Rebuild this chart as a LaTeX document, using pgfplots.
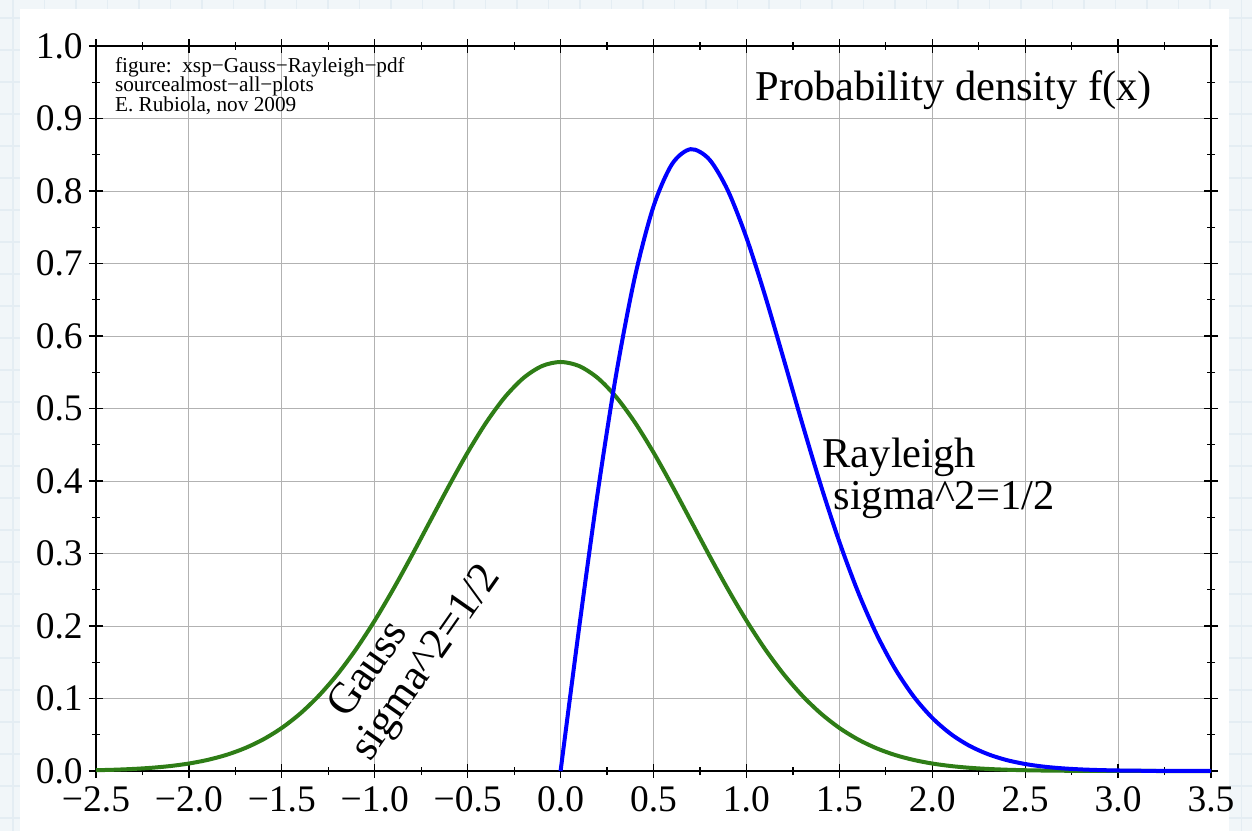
\documentclass[border=0pt]{standalone}
\usepackage{fontspec}
\setmainfont{Liberation Serif}
\usepackage{pgfplots}
\pgfplotsset{compat=1.18}
\definecolor{gaussgreen}{RGB}{46,125,22}
\definecolor{bgout}{RGB}{241,246,249}
\definecolor{bgline}{RGB}{228,237,243}
\pgfplotstableread{
x y
-2.5 0.001089
-2.4 0.001778
-2.3 0.002845
-2.2 0.004461
-2.1 0.006858
-2.0 0.010334
-1.9 0.015263
-1.8 0.022096
-1.7 0.031356
-1.6 0.043614
-1.5 0.059465
-1.4 0.079470
-1.3 0.104104
-1.2 0.133673
-1.1 0.168240
-1.0 0.207554
-0.9 0.250985
-0.8 0.297493
-0.7 0.345638
-0.6 0.393622
-0.5 0.439391
-0.4 0.480771
-0.3 0.515630
-0.2 0.542067
-0.1 0.558575
0.0 0.564190
0.1 0.558575
0.2 0.542067
0.3 0.515630
0.4 0.480771
0.5 0.439391
0.6 0.393622
0.7 0.345638
0.8 0.297493
0.9 0.250985
1.0 0.207554
1.1 0.168240
1.2 0.133673
1.3 0.104104
1.4 0.079470
1.5 0.059465
1.6 0.043614
1.7 0.031356
1.8 0.022096
1.9 0.015263
2.0 0.010334
2.1 0.006858
2.2 0.004461
2.3 0.002845
2.4 0.001778
2.5 0.001089
2.6 0.000654
2.7 0.000385
2.8 0.000222
2.9 0.000125
3.0 0.000070
3.1 0.000038
3.2 0.000020
3.3 0.000010
3.4 0.000005
3.5 0.000003
}\gausstable
\pgfplotstableread{
x y
0.0 0.000000
0.1 0.198010
0.2 0.384316
0.3 0.548359
0.4 0.681715
0.5 0.778801
0.6 0.837211
0.7 0.857676
0.8 0.843667
0.9 0.800744
1.0 0.735759
1.1 0.656033
1.2 0.568627
1.3 0.479752
1.4 0.394402
1.5 0.316197
1.6 0.247376
1.7 0.188958
1.8 0.140990
1.9 0.102798
2.0 0.073263
2.1 0.051051
2.2 0.034791
2.3 0.023193
2.4 0.015125
2.5 0.009650
2.6 0.006027
2.7 0.003688
2.8 0.002206
2.9 0.001288
3.0 0.000740
3.1 0.000418
3.2 0.000229
3.3 0.000122
3.4 0.000065
3.5 0.000034
}\rayleightable
\begin{document}
\begin{tikzpicture}
\path[use as bounding box] (0pt,0pt) rectangle (500.8pt,-332.4pt);
\begin{scope}[x=0.4pt,y=-0.4pt]
\fill[bgout] (0,0) rectangle (1252,831);
\foreach \i in {0,...,39} \draw[bgline, line width=0.7pt] ({13+31.5*\i},0) -- ({13+31.5*\i},831);
\foreach \j in {0,...,26} \draw[bgline, line width=0.7pt] (0,{18+32*\j}) -- (1252,{18+32*\j});
\fill[white] (20,9) rectangle (1229,831);
\end{scope}
\begin{axis}[
  at={(38.4pt,-308.4pt)}, anchor=south west,
  scale only axis, width=446pt, height=290pt,
  xmin=-2.5, xmax=3.5, ymin=0, ymax=1,
  xtick={-2.5,-2,-1.5,-1,-0.5,0,0.5,1,1.5,2,2.5,3,3.5},
  xticklabels={−2.5,−2.0,−1.5,−1.0,−0.5,0.0,0.5,1.0,1.5,2.0,2.5,3.0,3.5},
  ytick={0,0.1,0.2,0.3,0.4,0.5,0.6,0.7,0.8,0.9,1.0},
  yticklabels={0.0,0.1,0.2,0.3,0.4,0.5,0.6,0.7,0.8,0.9,1.0},
  minor x tick num=1, minor y tick num=1,
  tick align=center,
  major tick length=5.6pt, minor tick length=3.2pt,
  every tick/.style={black, line width=0.5pt},
  grid=major,
  major grid style={line width=0.4pt, color=black!30},
  axis line style={line width=0.8pt, black},
  tick label style={font=\fontsize{15}{15}\selectfont},
  yticklabel style={xshift=1pt},
  clip=false,
]
\addplot[gaussgreen, line width=1.6pt, smooth] table[x=x,y=y] {\gausstable};
\addplot[blue, line width=1.6pt, smooth] table[x=x,y=y] {\rayleightable};
\node[anchor=base west, inner sep=0pt, font=\fontsize{17}{17}\selectfont] at (axis cs:1.046,0.9255) {Probability density f(x)};
\node[anchor=base west, inner sep=0pt, font=\fontsize{17}{17}\selectfont] at (axis cs:1.407,0.419) {Rayleigh};
\node[anchor=base west, inner sep=0pt, font=\fontsize{17}{17}\selectfont] at (axis cs:1.466,0.361) {sigma\textasciicircum2=1/2};
\node[anchor=base west, inner sep=0pt, rotate=55, font=\fontsize{17.5}{17.5}\selectfont] at (axis cs:-1.149,0.070) {Gauss};
\node[anchor=base west, inner sep=0pt, rotate=55, font=\fontsize{17.5}{17.5}\selectfont] at (axis cs:-1.026,0.011) {sigma\textasciicircum2=1/2};
\node[anchor=north west, align=left, font=\fontsize{8.5}{7.8}\selectfont, inner sep=0pt] at (axis cs:-2.4,0.985) {figure:\ \ xsp−Gauss−Rayleigh−pdf\\sourcealmost−all−plots\\E. Rubiola, nov 2009};
\end{axis}
\end{tikzpicture}
\end{document}
